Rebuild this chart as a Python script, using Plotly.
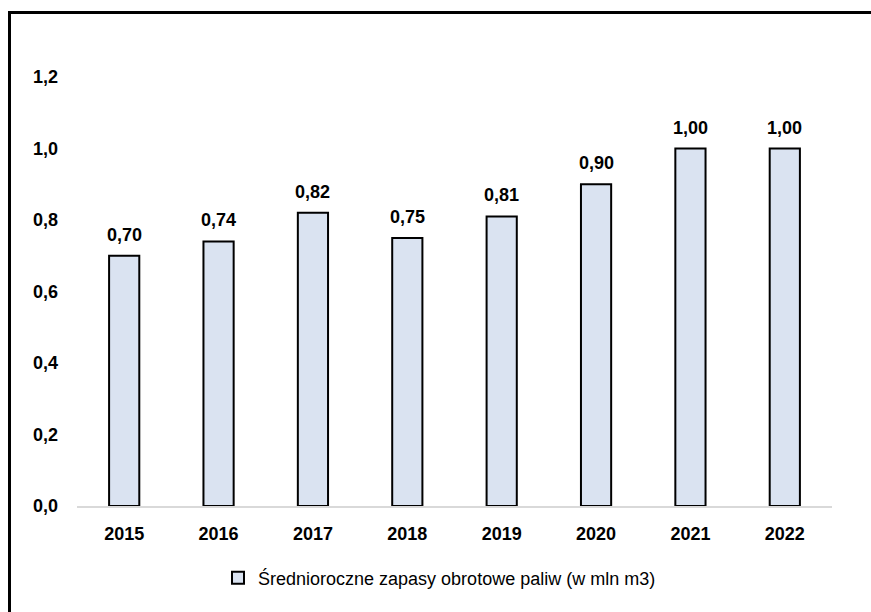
import plotly.graph_objects as go

years = ["2015", "2016", "2017", "2018", "2019", "2020", "2021", "2022"]
stocks = [0.70, 0.74, 0.82, 0.75, 0.81, 0.90, 1.00, 1.00]
y_ticks = [0.0, 0.2, 0.4, 0.6, 0.8, 1.0, 1.2]
series_name = "Średnioroczne zapasy obrotowe paliw (w mln m3)"

W, H = 871, 612
L, R, T, B = 77, 39, 77, 106
pw, ph = W - L - R, H - T - B
FONT = "Liberation Sans, Arial"


def pl(v, nd):
    # Polish decimal comma
    return f"{v:.{nd}f}".replace(".", ",")


fig = go.Figure()
fig.add_trace(go.Bar(
    x=years, y=stocks, name=series_name, width=0.32,
    marker=dict(color="#dae3f1", line=dict(color="#000000", width=2)),
    showlegend=True,
))

# value labels above each bar (category index keeps numeric-looking names intact)
for i, v in enumerate(stocks):
    fig.add_annotation(
        x=i, y=v, xref="x", yref="y", text=pl(v, 2), showarrow=False,
        yanchor="bottom", yshift=9,
        font=dict(family=FONT, size=18, color="#000000", weight="bold"),
    )


def px_x(p):
    return (p - L) / pw


def px_y(p):
    return (H - B - p) / ph


# outer frame around the chart
fig.add_shape(type="rect", xref="paper", yref="paper",
              x0=px_x(9.5), x1=px_x(878), y0=px_y(12.5), y1=px_y(620),
              line=dict(color="#000000", width=3), fillcolor="rgba(0,0,0,0)")

fig.update_layout(
    width=W, height=H,
    margin=dict(l=L, r=R, t=T, b=B),
    paper_bgcolor="white", plot_bgcolor="white",
    font=dict(family=FONT, color="#000000"),
    legend=dict(orientation="h", x=px_x(218), xanchor="left",
                y=px_y(578), yanchor="middle",
                font=dict(size=18, color="#000000", family=FONT),
                itemwidth=30),
    xaxis=dict(type="category", categoryorder="array", categoryarray=years,
               range=[-0.5, len(years) - 0.5], autorange=False,
               showgrid=False, showline=True,
               linecolor="#d9d9d9", linewidth=2,
               ticks="", ticklabelstandoff=10,
               tickfont=dict(size=18, family=FONT, color="#000000", weight="bold")),
    yaxis=dict(range=[0, 1.2], tickvals=y_ticks,
               ticktext=[pl(t, 1) for t in y_ticks],
               showgrid=False, showline=False, zeroline=False,
               ticks="", ticklabelstandoff=18,
               tickfont=dict(size=18, family=FONT, color="#000000", weight="bold")),
)

fig.write_html("out.html")
